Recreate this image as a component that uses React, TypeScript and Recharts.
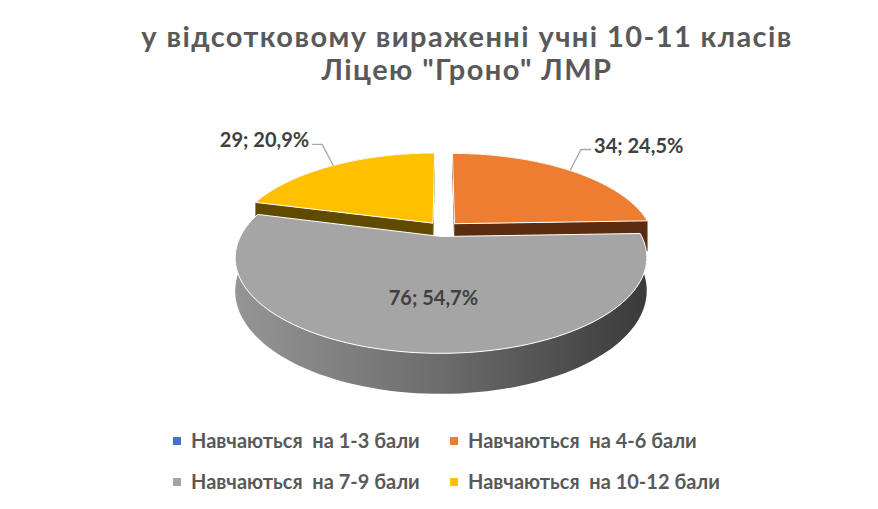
import React from 'react';
import { PieChart, Pie } from 'recharts';

const categories = [
  'Навчаються  на 1-3 бали',
  'Навчаються  на 4-6 бали',
  'Навчаються  на 7-9 бали',
  'Навчаються  на 10-12 бали',
];
const counts = [0, 34, 76, 29];
const topColors = ['#4472C4', '#ED7D31', '#A5A5A5', '#FFC000'];
const wallColors = ['#203864', '#5B2D0E', '#5A5A5A', '#604A00'];
const titleLines = ['у відсотковому вираженні учні 10-11 класів', 'Ліцею "Гроно" ЛМР'];

const total = counts.reduce((a, b) => a + b, 0);
const data = categories.map((name, i) => ({
  name,
  value: counts[i],
  fill: topColors[i],
  wall: wallColors[i],
}));

const W = 878;
const H = 509;
const CX = 438;
const CY = 224;
const R = 197;
// fake 3d: perspective strength, vertical squash, wall height, explode distance
const PERSP = 0.217;
const TILT = 0.445;
const DEPTH = 31;
const EXPLODE = 0.085;
const RAD = Math.PI / 180;
const FONT = 'Lato, "Noto Sans", sans-serif';

const project = (cx: number, cy: number, r: number, X: number, Z: number, h: number) => {
  const f = 1 / (1 + PERSP * Z);
  return [cx + r * X * f, cy - r * TILT * Z * f + DEPTH * h * f];
};

const offsetOf = (mid: number) => [EXPLODE * Math.cos(mid * RAD), EXPLODE * Math.sin(mid * RAD)];

const arcPoints = (cx: number, cy: number, r: number, ox: number, oz: number, a0: number, a1: number, h: number) => {
  const n = Math.max(2, Math.ceil(Math.abs(a1 - a0) / 2));
  const pts: number[][] = [];
  for (let i = 0; i <= n; i++) {
    const a = (a0 + ((a1 - a0) * i) / n) * RAD;
    pts.push(project(cx, cy, r, ox + Math.cos(a), oz + Math.sin(a), h));
  }
  return pts;
};

const toPath = (pts: number[][]) =>
  pts.map((p, i) => `${i ? 'L' : 'M'}${p[0].toFixed(2)},${p[1].toFixed(2)}`).join(' ') + ' Z';

const TopFace = (props: any) => {
  const { cx, cy, outerRadius, startAngle, endAngle, fill } = props;
  if (Math.abs(endAngle - startAngle) < 0.01) return null;
  const [ox, oz] = offsetOf((startAngle + endAngle) / 2);
  const apex = project(cx, cy, outerRadius, ox, oz, 0);
  const pts = [apex, ...arcPoints(cx, cy, outerRadius, ox, oz, startAngle, endAngle, 0)];
  return <path d={toPath(pts)} fill={fill} stroke="#ffffff" strokeWidth={1} strokeLinejoin="round" />;
};

const Walls = (props: any) => {
  const { cx, cy, outerRadius, startAngle, endAngle, payload, index } = props;
  if (Math.abs(endAngle - startAngle) < 0.01) return null;
  const mid = (startAngle + endAngle) / 2;
  const [ox, oz] = offsetOf(mid);
  const r = outerRadius;
  const top = arcPoints(cx, cy, r, ox, oz, startAngle, endAngle, 0);
  const bottom = arcPoints(cx, cy, r, ox, oz, startAngle, endAngle, 1).reverse();
  const outer = toPath([...top, ...bottom]);
  const radial = [startAngle, endAngle].map((a) => {
    const e0 = project(cx, cy, r, ox + Math.cos(a * RAD), oz + Math.sin(a * RAD), 0);
    const e1 = project(cx, cy, r, ox + Math.cos(a * RAD), oz + Math.sin(a * RAD), 1);
    return toPath([project(cx, cy, r, ox, oz, 0), e0, e1, project(cx, cy, r, ox, oz, 1)]);
  });
  const gid = `wall-grad-${index}`;
  const front = Math.sin(mid * RAD) < 0;
  const outerEl = <path d={outer} fill={front ? `url(#${gid})` : payload.wall} />;
  const radialEl = radial.map((d, i) => <path key={i} d={d} fill={payload.wall} />);
  return (
    <g>
      <defs>
        <linearGradient id={gid} x1="0" y1="0" x2="1" y2="0">
          <stop offset="0%" stopColor="#959595" />
          <stop offset="50%" stopColor="#6c6c6c" />
          <stop offset="100%" stopColor="#3a3a3a" />
        </linearGradient>
      </defs>
      {front ? radialEl : outerEl}
      {front ? outerEl : radialEl}
    </g>
  );
};

const fmtPct = (v: number) => ((v / total) * 100).toFixed(1).replace('.', ',') + '%';

const renderLabel = (props: any) => {
  const { cx, cy, outerRadius, midAngle, value, index } = props;
  if (!value) return null;
  const [ox, oz] = offsetOf(midAngle);
  const c = Math.cos(midAngle * RAD);
  const s = Math.sin(midAngle * RAD);
  const text = `${value}; ${fmtPct(value)}`;
  const style = { fontFamily: FONT, fontSize: 20, fontWeight: 700, fill: '#404040' };
  if (value / total > 0.4) {
    const [ax] = project(cx, cy, outerRadius, ox, oz, 0);
    const [px, py] = project(cx, cy, outerRadius, ox + 0.58 * c, oz + 0.58 * s, 0);
    return (
      <text key={`l${index}`} x={(ax + px) / 2} y={py} textAnchor="middle" dominantBaseline="central" style={style}>
        {text}
      </text>
    );
  }
  const side = c >= 0 ? 1 : -1;
  const [ex, ey] = project(cx, cy, outerRadius, ox + c, oz + s, 0);
  const bx = ex + side * 11;
  const by = ey - 21;
  const tx = bx + side * 10;
  return (
    <g key={`l${index}`}>
      <polyline points={`${ex},${ey} ${bx},${by} ${tx},${by}`} fill="none" stroke="#a6a6a6" strokeWidth={1.3} />
      <text x={tx + side * 3} y={by - 5} textAnchor={side > 0 ? 'start' : 'end'} dominantBaseline="central" style={style}>
        {text}
      </text>
    </g>
  );
};

const legendCols = [173, 450];
const legendRows = [441, 482];

const App = () => (
  <div style={{ position: 'absolute', left: 0, top: 0, width: W, height: H, background: '#ffffff' }}>
    <PieChart width={W} height={H} style={{ position: 'absolute', left: 0, top: 0 }}>
      <Pie
        data={data}
        dataKey="value"
        nameKey="name"
        cx={CX}
        cy={CY}
        outerRadius={R}
        startAngle={90}
        endAngle={-270}
        stroke="none"
        legendType="none"
        shape={(p: any) => <Walls {...p} />}
        isAnimationActive={false}
      />
      <Pie
        data={data}
        dataKey="value"
        nameKey="name"
        cx={CX}
        cy={CY}
        outerRadius={R}
        startAngle={90}
        endAngle={-270}
        stroke="none"
        legendType="square"
        shape={(p: any) => <TopFace {...p} />}
        label={renderLabel}
        labelLine={false}
        isAnimationActive={false}
      />
    </PieChart>
    <svg width={W} height={H} style={{ position: 'absolute', left: 0, top: 0, pointerEvents: 'none' }}>
      {titleLines.map((line, i) => (
        <text
          key={line}
          x={467}
          y={47 + i * 33}
          textAnchor="middle"
          style={{ fontFamily: FONT, fontSize: 29, fontWeight: 700, letterSpacing: 1.4, fill: '#595959' }}
        >
          {line}
        </text>
      ))}
      {categories.map((name, i) => {
        const x = legendCols[i % 2];
        const y = legendRows[Math.floor(i / 2)];
        return (
          <g key={name}>
            <rect x={x} y={y - 4} width={8} height={8} fill={topColors[i]} />
            <text
              x={x + 18}
              y={y + 7}
              style={{ fontFamily: FONT, fontSize: 20, fontWeight: 700, fill: '#595959', whiteSpace: 'pre' }}
            >
              {name}
            </text>
          </g>
        );
      })}
    </svg>
  </div>
);

export default App;
